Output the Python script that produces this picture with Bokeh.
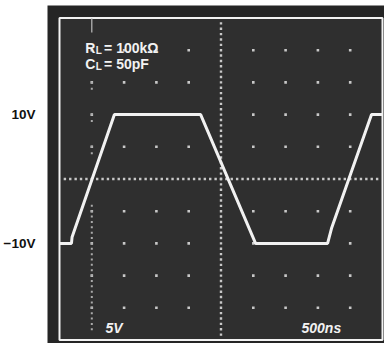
from bokeh.plotting import figure
from bokeh.models import Range1d, FixedTicker
from bokeh.embed import file_html
from bokeh.resources import INLINE
from bokeh.core.properties import value
import numpy as np

# ---- data ----
time_ns = [0, 185, 195, 850, 2185, 3035, 4150, 4210, 4830, 5000]
volts = [-10, -10, -9, 10, 10, -10, -10, -7.7, 10, 10]

y_tick_values = [10, -10]
y_tick_labels = ["10V", "\u221210V"]

ns_per_div = 500
v_per_div = 5
n_div = 10
x_label = "500ns"
y_label = "5V"

FONT = "Liberation Sans"
BG_OUT = "#252525"
BG_IN = "#2f2f2f"
WHITE = "#f2f2f2"
DOT = "#c8c8c8"

t_max = ns_per_div * n_div
v_half = v_per_div * n_div / 2

p = figure(frame_width=337, frame_height=338, output_backend="svg",
           toolbar_location=None, x_axis_location=None,
           x_range=Range1d(-185.8, 5031), y_range=Range1d(-25.543, 26.941),
           min_border_left=40, min_border_right=0, min_border_top=5,
           min_border_bottom=0, border_fill_color="white",
           background_fill_color=BG_OUT, outline_line_color=None)
p.grid.visible = False

ax = p.yaxis[0]
ax.ticker = FixedTicker(ticks=y_tick_values)
ax.major_label_overrides = {v: l for v, l in zip(y_tick_values, y_tick_labels)}
ax.axis_line_color = None
ax.major_tick_line_color = None
ax.minor_tick_line_color = None
ax.major_label_text_font = FONT
ax.major_label_text_font_style = "bold"
ax.major_label_text_font_size = "13.5px"
ax.major_label_text_color = "#111111"
ax.major_label_standoff = 6

# graticule area with white border
p.quad(left=[0], right=[t_max], bottom=[-v_half], top=[v_half],
       fill_color=BG_IN, line_color=WHITE, line_width=2)

# major dots
xs, ys = [], []
for i in range(1, n_div):
    for j in range(1, n_div):
        if i == n_div // 2 or j == n_div // 2:
            continue
        xs.append(i * ns_per_div)
        ys.append(-v_half + j * v_per_div)
p.scatter(xs, ys, size=2.6, marker="square", color=DOT, line_color=None)

# center cross minor dots
minor_t = np.arange(0, t_max + 1, ns_per_div / 6)
minor_v = np.arange(-v_half, v_half + 0.01, v_per_div / 6)
p.scatter(minor_t[1:-1], np.zeros(len(minor_t) - 2), size=2.4, marker="square",
          color=DOT, line_color=None)
p.scatter(np.full(len(minor_v) - 2, t_max / 2), minor_v[1:-1], size=2.4,
          marker="square", color=DOT, line_color=None)

# marker line at 1 div
mx = ns_per_div
p.segment(x0=[mx], y0=[v_half], x1=[mx], y1=[v_half - 0.45 * v_per_div],
          line_color="#bdbdbd", line_width=1.2)
low_v = minor_v[(minor_v < -0.7 * v_per_div) & (minor_v > -v_half + 0.3 * v_per_div)]
up_v = [v for j in range(1, n_div // 2 - 1) for v in (j * v_per_div, j * v_per_div - v_per_div / 5)]
p.scatter(np.full(len(low_v) + len(up_v), mx), list(low_v) + up_v, size=2,
          marker="square", color="#aaaaaa", line_color=None)

# waveform
p.line(time_ns, volts, line_color=WHITE, line_width=3)

# annotations
def txt(x, y, s, size="14px", style="bold"):
    p.text(x=[x], y=[y], text=[s], text_color=WHITE, text_font=value(FONT),
           text_font_size=size, text_font_style=style,
           text_baseline="alphabetic", text_align="left")

txt(400, 20.3, "R")
txt(560, 19.9, "L", size="10px")
txt(690, 20.3, "= 100k\u03a9")
txt(400, 17.8, "C")
txt(560, 17.4, "L", size="10px")
txt(690, 17.8, "= 50pF")
txt(712, -23.06, y_label, style="bold italic")
txt(3746, -23.2, x_label, style="bold italic")

open("out.html", "w").write(file_html(p, INLINE))
